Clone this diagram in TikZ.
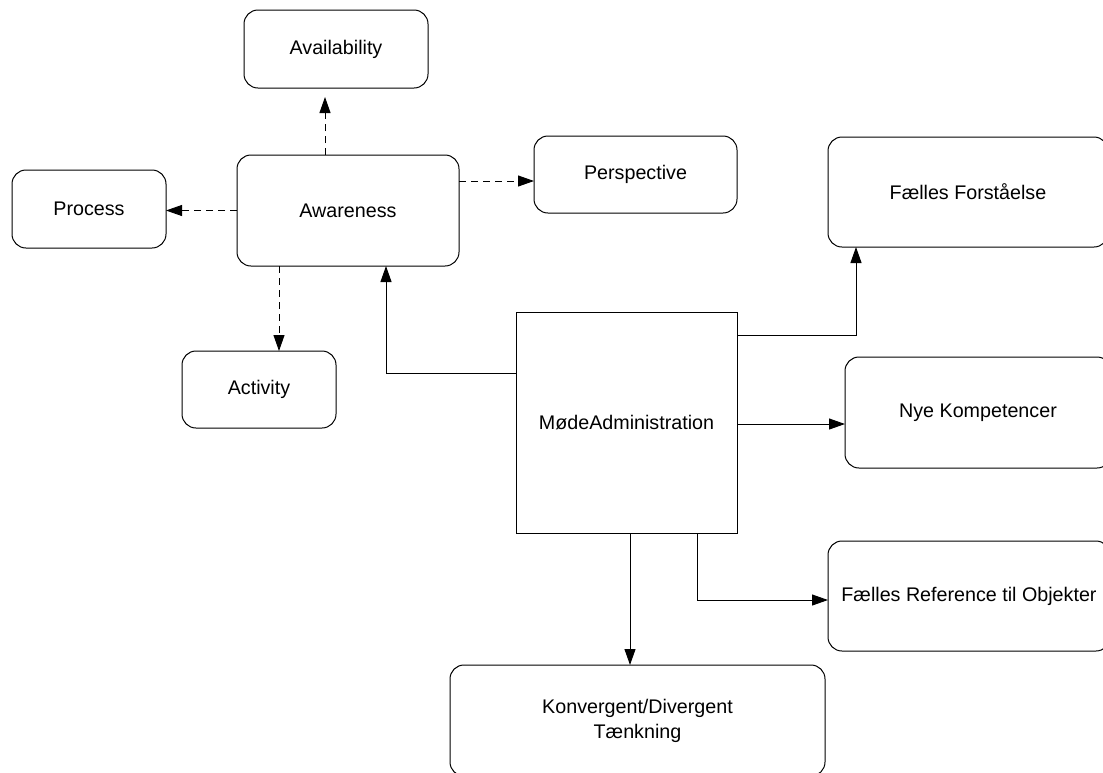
\documentclass[tikz,border=0pt]{standalone}
\usepackage{fontspec}
\setmainfont{Liberation Sans}
\usetikzlibrary{arrows.meta}
\tikzset{
  box/.style={draw, line width=1pt, rounded corners=14pt, inner sep=0pt, outer sep=0pt,
    align=center, font=\fontsize{19.7}{25}\selectfont},
  plainbox/.style={box, rounded corners=0pt},
  link/.style={draw, line width=1pt, -{Triangle[length=16pt,width=11pt]}},
  dlink/.style={link, line width=0.9pt, dash pattern=on 7pt off 5pt},
}
\begin{document}
\begin{tikzpicture}[x=1pt,y=-1pt]
\useasboundingbox (0,0) rectangle (1103,772);
\clip (0,0) rectangle (1103,772);

% awareness cluster
\node[box, minimum width=184pt, minimum height=78pt]  (avail)   at (336,49)    {Availability};
\node[box, minimum width=222pt, minimum height=111pt] (aware)   at (348,210.5) {Awareness};
\node[box, minimum width=154pt, minimum height=78pt]  (process) at (89,209)    {Process};
\node[box, minimum width=203pt, minimum height=77pt]  (persp)   at (635.5,174.5) {Perspective};
\node[box, minimum width=154pt, minimum height=77pt]  (activ)   at (259,389.5) {Activity};

% meeting administration and its outcomes
\node[plainbox, minimum width=221pt, minimum height=221pt] (mode) at (626.5,422.5) {MødeAdministration};
\node[box, minimum width=280pt, minimum height=110pt] (fforst) at (968,192)   {Fælles Forståelse};
\node[box, minimum width=266pt, minimum height=111pt] (nye)    at (978,412.5) {Nye Kompetencer};
\node[box, minimum width=282pt, minimum height=110pt] (fref)   at (969,596)   {Fælles Reference til Objekter};
\node[box, minimum width=375pt, minimum height=111pt] (konv)   at (637.5,720.5) {Konvergent/Divergent\\Tænkning};

% guide coordinates for the connector routes
\coordinate (gAvail) at (325,181);
\coordinate (gAct)   at (279,0);
\coordinate (gUp)    at (386,373);
\coordinate (gFor)   at (856,335);
\coordinate (gNye)   at (0,424);
\coordinate (gRef)   at (697,600);
\coordinate (gKon)   at (630,0);

% dashed links from Awareness
\draw[dlink, shorten >=9pt] (aware.north -| gAvail) -- (avail.south -| gAvail);
\draw[dlink] (aware.west) -- (aware.west -| process.east);
\draw[dlink] (aware.east |- gAvail) -- (persp.west |- gAvail);
\draw[dlink] (aware.south -| gAct) -- (activ.north -| gAct);

% solid links from MødeAdministration
\draw[link] (mode.west |- gUp) -| (aware.south -| gUp);
\draw[link] (mode.east |- gFor) -| (fforst.south -| gFor);
\draw[link] (mode.east |- gNye) -- (nye.west |- gNye);
\draw[link] (mode.south -| gRef) |- (fref.west |- gRef);
\draw[link] (mode.south -| gKon) -- (konv.north -| gKon);
\end{tikzpicture}
\end{document}
